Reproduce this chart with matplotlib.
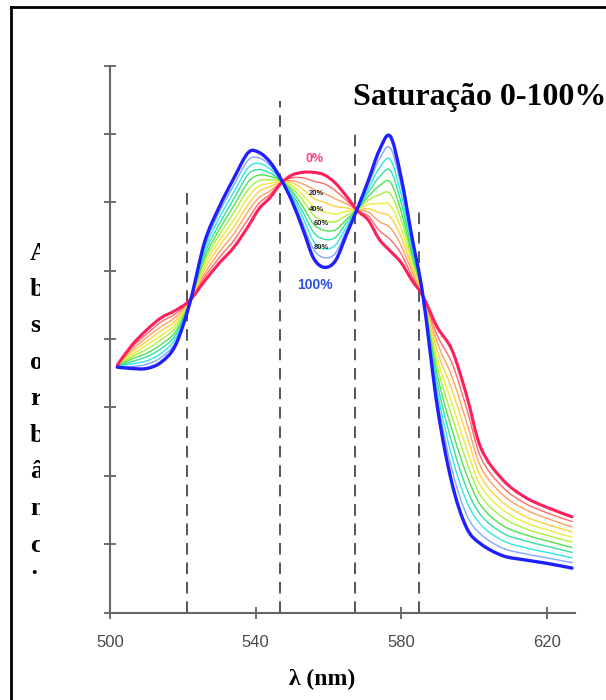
import matplotlib
matplotlib.use('Agg')
import matplotlib.pyplot as plt
import numpy as np
from matplotlib.lines import Line2D
from matplotlib.path import Path
from matplotlib.patches import PathPatch
from matplotlib.transforms import Bbox, TransformedBbox

# ── Data (y in tick units, 0..8) ────────────────────────────────────────────
wavelength = [502, 506, 510, 514, 518, 522, 526, 530, 534, 538, 541, 544,
              547, 550, 553, 556, 559, 562, 565, 568, 571, 574, 577, 580,
              583, 586, 590, 594, 598, 602, 608, 614, 620, 627]

sat_000 = [3.62, 3.91, 4.13, 4.31, 4.42, 4.57, 4.85, 5.11, 5.34, 5.65, 5.91, 6.07,
           6.28, 6.40, 6.44, 6.44, 6.40, 6.28, 6.09, 5.88, 5.74, 5.46, 5.29, 5.12,
           4.86, 4.63, 4.17, 3.84, 3.18, 2.40, 1.94, 1.69, 1.54, 1.40]
sat_010 = [3.62, 3.88, 4.07, 4.25, 4.37, 4.57, 4.91, 5.19, 5.44, 5.76, 5.99, 6.12,
           6.29, 6.36, 6.36, 6.31, 6.27, 6.17, 6.03, 5.88, 5.80, 5.59, 5.46, 5.25,
           4.92, 4.63, 4.05, 3.65, 2.99, 2.26, 1.83, 1.60, 1.46, 1.33]
sat_020 = [3.61, 3.84, 4.02, 4.18, 4.32, 4.56, 4.96, 5.27, 5.54, 5.87, 6.07, 6.17,
           6.29, 6.32, 6.27, 6.19, 6.13, 6.05, 5.98, 5.89, 5.86, 5.72, 5.63, 5.37,
           4.99, 4.63, 3.94, 3.45, 2.79, 2.12, 1.72, 1.51, 1.38, 1.25]
sat_030 = [3.61, 3.81, 3.96, 4.12, 4.27, 4.56, 5.02, 5.36, 5.64, 5.97, 6.16, 6.23,
           6.30, 6.29, 6.19, 6.06, 6.00, 5.94, 5.92, 5.89, 5.91, 5.85, 5.79, 5.50,
           5.05, 4.63, 3.82, 3.26, 2.60, 1.98, 1.61, 1.41, 1.29, 1.18]
sat_040 = [3.61, 3.77, 3.91, 4.05, 4.22, 4.56, 5.08, 5.44, 5.74, 6.08, 6.24, 6.28,
           6.30, 6.25, 6.11, 5.94, 5.86, 5.83, 5.87, 5.89, 5.97, 5.98, 5.96, 5.62,
           5.11, 4.63, 3.70, 3.06, 2.40, 1.84, 1.50, 1.32, 1.21, 1.10]
sat_050 = [3.61, 3.74, 3.85, 3.99, 4.17, 4.56, 5.14, 5.52, 5.85, 6.19, 6.32, 6.33,
           6.31, 6.21, 6.03, 5.81, 5.73, 5.72, 5.81, 5.90, 6.03, 6.11, 6.13, 5.75,
           5.18, 4.64, 3.59, 2.87, 2.21, 1.70, 1.39, 1.23, 1.13, 1.03]
sat_060 = [3.60, 3.71, 3.79, 3.92, 4.11, 4.55, 5.19, 5.60, 5.95, 6.30, 6.40, 6.38,
           6.32, 6.17, 5.94, 5.68, 5.59, 5.60, 5.75, 5.90, 6.09, 6.24, 6.30, 5.87,
           5.24, 4.64, 3.47, 2.67, 2.02, 1.56, 1.27, 1.14, 1.05, 0.95]
sat_070 = [3.60, 3.67, 3.74, 3.86, 4.06, 4.55, 5.25, 5.68, 6.05, 6.41, 6.48, 6.43,
           6.32, 6.13, 5.86, 5.56, 5.46, 5.49, 5.70, 5.90, 6.15, 6.37, 6.47, 6.00,
           5.30, 4.64, 3.35, 2.48, 1.82, 1.42, 1.16, 1.05, 0.97, 0.88]
sat_080 = [3.60, 3.64, 3.68, 3.79, 4.01, 4.55, 5.31, 5.77, 6.15, 6.51, 6.57, 6.49,
           6.33, 6.10, 5.78, 5.43, 5.32, 5.38, 5.64, 5.90, 6.20, 6.50, 6.63, 6.12,
           5.36, 4.64, 3.23, 2.28, 1.63, 1.28, 1.05, 0.95, 0.88, 0.80]
sat_090 = [3.59, 3.60, 3.63, 3.73, 3.96, 4.54, 5.36, 5.85, 6.25, 6.62, 6.65, 6.54,
           6.33, 6.06, 5.69, 5.31, 5.19, 5.26, 5.59, 5.91, 6.26, 6.63, 6.80, 6.25,
           5.43, 4.64, 3.12, 2.09, 1.43, 1.14, 0.94, 0.86, 0.80, 0.73]
sat_100 = [3.59, 3.57, 3.57, 3.66, 3.91, 4.54, 5.42, 5.93, 6.35, 6.73, 6.73, 6.59,
           6.34, 6.02, 5.61, 5.18, 5.05, 5.15, 5.53, 5.91, 6.32, 6.76, 6.97, 6.37,
           5.49, 4.64, 3.00, 1.89, 1.24, 1.00, 0.83, 0.77, 0.72, 0.65]

# isosbestic markers (dashed verticals)
iso_wavelength = [521.2, 546.7, 567.3, 584.9]
iso_top = [6.15, 7.49, 7.10, 5.88]

# in-plot labels
level_labels = ['20%', '40%', '60%', '80%']
level_label_x = [556.7, 556.7, 558.0, 558.0]
level_label_y = [6.13, 5.90, 5.69, 5.34]

# ── Styles ──────────────────────────────────────────────────────────────────
series = [sat_010, sat_020, sat_030, sat_040, sat_050,
          sat_060, sat_070, sat_080, sat_090]
colors = ['#ff6a6a', '#ffa060', '#ffd040', '#e6ee3a', '#a8f040',
          '#50e050', '#30e0a0', '#30e6e6', '#80a8ff']
C_RED = '#ff1f5a'
C_BLUE = '#1f1fff'
SERIF = ['Liberation Serif', 'DejaVu Serif']
SANS = ['Liberation Sans', 'DejaVu Sans']


def smooth_path(x, y):
    """Catmull-Rom curve through the points, as cubic Bezier segments."""
    p = np.column_stack([x, y]).astype(float)
    ext = np.vstack([p[0], p, p[-1]])
    verts = [p[0]]
    codes = [Path.MOVETO]
    for i in range(1, len(ext) - 2):
        p0, p1, p2, p3 = ext[i - 1], ext[i], ext[i + 1], ext[i + 2]
        verts += [p1 + (p2 - p0) / 6, p2 - (p3 - p1) / 6, p2]
        codes += [Path.CURVE4] * 3
    return Path(verts, codes)


def draw_curve(ax, x, y, **kw):
    ax.add_patch(PathPatch(smooth_path(x, y), fill=False,
                           capstyle='round', joinstyle='round', **kw))


fig = plt.figure(figsize=(6.06, 7.0), dpi=100)
ax = fig.add_axes([0.1815, 0.125, 0.7673, 0.7811])
ax.set_xlim(500, 627.8)
ax.set_ylim(0, 8)

for s in ['top', 'right']:
    ax.spines[s].set_visible(False)
for s in ['left', 'bottom']:
    ax.spines[s].set_color('#666666')
    ax.spines[s].set_linewidth(1.5)

ax.set_xticks([500, 540, 580, 620])
ax.set_yticks(range(0, 9))
ax.set_yticklabels([])
ax.tick_params(axis='both', direction='inout', length=9, width=1.2, color='#555555')
ax.tick_params(axis='x', pad=12, labelsize=12, labelcolor='#4a4a4a')
for lab in ax.get_xticklabels():
    lab.set_family(SANS)

ax.vlines(iso_wavelength, 0, iso_top, colors='#555555',
          linestyles=(0, (6, 4)), lw=1.4, zorder=1)

for vals, col in zip(series, colors):
    draw_curve(ax, wavelength, vals, edgecolor=col, lw=1.0, zorder=2)
draw_curve(ax, wavelength, sat_000, edgecolor=C_RED, lw=2.2, zorder=3)
draw_curve(ax, wavelength, sat_100, edgecolor=C_BLUE, lw=2.4, zorder=4)

ax.text(556.2, 6.64, '0%', color='#ff3d7a', fontsize=9, fontweight='bold',
        ha='center', va='center', family=SANS)
ax.text(556.4, 4.79, '100%', color='#3050e0', fontsize=10, fontweight='bold',
        ha='center', va='center', family=SANS)
for t, x, y in zip(level_labels, level_label_x, level_label_y):
    ax.text(x, y, t, color='#222222', fontsize=5.5, fontweight='bold',
            ha='center', va='center', family=SANS, zorder=5)

# ── Titles / labels ─────────────────────────────────────────────────────────
fig.text(0.792, 0.861, 'Saturação 0-100%', fontsize=23, fontweight='bold',
         ha='center', va='center', family=SERIF)
fig.text(0.531, 0.030, 'λ (nm)', fontsize=17, fontweight='bold',
         ha='center', va='center', family=SERIF)

# stacked, half-hidden y label
clip = TransformedBbox(Bbox.from_extents(0.02, 124 / 700, 40 / 606, 0.67),
                       fig.transFigure)
for k, ch in enumerate('Absorbância'):
    t = fig.text(30 / 606, 1 - (253 + 36.5 * k) / 700, ch, fontsize=19,
                 fontweight='bold', ha='left', va='center', family=SERIF)
    t.set_clip_box(clip)
    t.set_clip_on(True)

# frame (top and left only)
fig.add_artist(Line2D([11 / 606, 1.0], [1 - 7 / 700, 1 - 7 / 700],
                      transform=fig.transFigure, color='black', lw=2))
fig.add_artist(Line2D([11 / 606, 11 / 606], [0.0, 1 - 7 / 700],
                      transform=fig.transFigure, color='black', lw=2))

fig.savefig('out.png', dpi=100)
plt.close(fig)
